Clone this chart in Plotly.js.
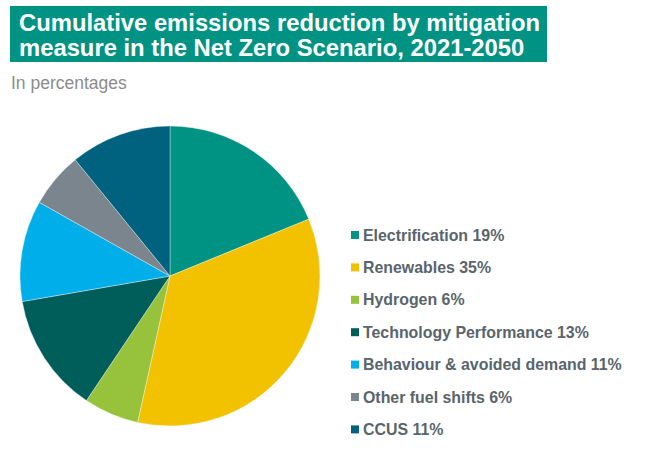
<!DOCTYPE html>
<html>
<head>
<meta charset="utf-8">
<script src="https://cdn.plot.ly/plotly-3.0.1.min.js"></script>
<style>
  html, body { margin: 0; padding: 0; background: #ffffff; }
  #chart { width: 645px; height: 468px; }
</style>
</head>
<body>
<div id="chart"></div>
<script>
// Mitigation measures and their share of cumulative emissions reduction (%)
const measures = [
  "Electrification",
  "Renewables",
  "Hydrogen",
  "Technology Performance",
  "Behaviour & avoided demand",
  "Other fuel shifts",
  "CCUS"
];
const shares = [19, 35, 6, 13, 11, 6, 11];
const sliceColors = ["#009384", "#F2C100", "#97C23C", "#005E5A", "#00AEEA", "#7A858D", "#00627F"];

const titleLines = [
  "Cumulative emissions reduction by mitigation",
  "measure in the Net Zero Scenario, 2021-2050"
];
const subtitle = "In percentages";

const W = 645, H = 468;
const px = x => x / W;          // pixel -> paper x
const py = y => 1 - y / H;      // pixel -> paper y

const FONT = "Liberation Sans, Arial, sans-serif";

const annotations = [];
const shapes = [];

// Title banner
shapes.push({
  type: "rect", xref: "paper", yref: "paper",
  x0: px(10), x1: px(547), y0: py(62), y1: py(6),
  fillcolor: "#009384", line: { width: 0 }, layer: "below"
});
titleLines.forEach((t, i) => {
  annotations.push({
    text: "<b>" + t + "</b>", showarrow: false,
    xref: "paper", yref: "paper", xanchor: "left", yanchor: "middle",
    x: px(17), y: py(22 + i * 26),
    font: { family: FONT, size: 23.8, color: "#ffffff" }
  });
});
annotations.push({
  text: subtitle, showarrow: false,
  xref: "paper", yref: "paper", xanchor: "left", yanchor: "middle",
  x: px(9), y: py(83),
  font: { family: FONT, size: 17.5, color: "#8C8C8C" }
});

// Legend: coloured square plus label built from the data
measures.forEach((m, i) => {
  const cy = 235 + i * 32.4;
  shapes.push({
    type: "rect", xref: "paper", yref: "paper",
    x0: px(351), x1: px(359), y0: py(cy + 4), y1: py(cy - 4),
    fillcolor: sliceColors[i], line: { width: 0 }
  });
  annotations.push({
    text: "<b>" + m + " " + shares[i] + "%</b>", showarrow: false,
    xref: "paper", yref: "paper", xanchor: "left", yanchor: "middle",
    x: px(361), y: py(cy),
    font: { family: FONT, size: 15.9, color: "#59646C" }
  });
});

const data = [{
  type: "pie",
  labels: measures,
  values: shares,
  sort: false,
  direction: "clockwise",
  rotation: 0,
  textinfo: "none",
  hoverinfo: "label+percent",
  marker: { colors: sliceColors, line: { color: "rgba(255,255,255,0.6)", width: 0.6 } },
  domain: { x: [px(20), px(320)], y: [py(426), py(126)] },
  showlegend: false
}];

const layout = {
  width: W, height: H,
  margin: { l: 0, r: 0, t: 0, b: 0 },
  paper_bgcolor: "#ffffff",
  showlegend: false,
  annotations: annotations,
  shapes: shapes
};

Plotly.newPlot("chart", data, layout, { displayModeBar: false, staticPlot: true });
</script>
</body>
</html>
